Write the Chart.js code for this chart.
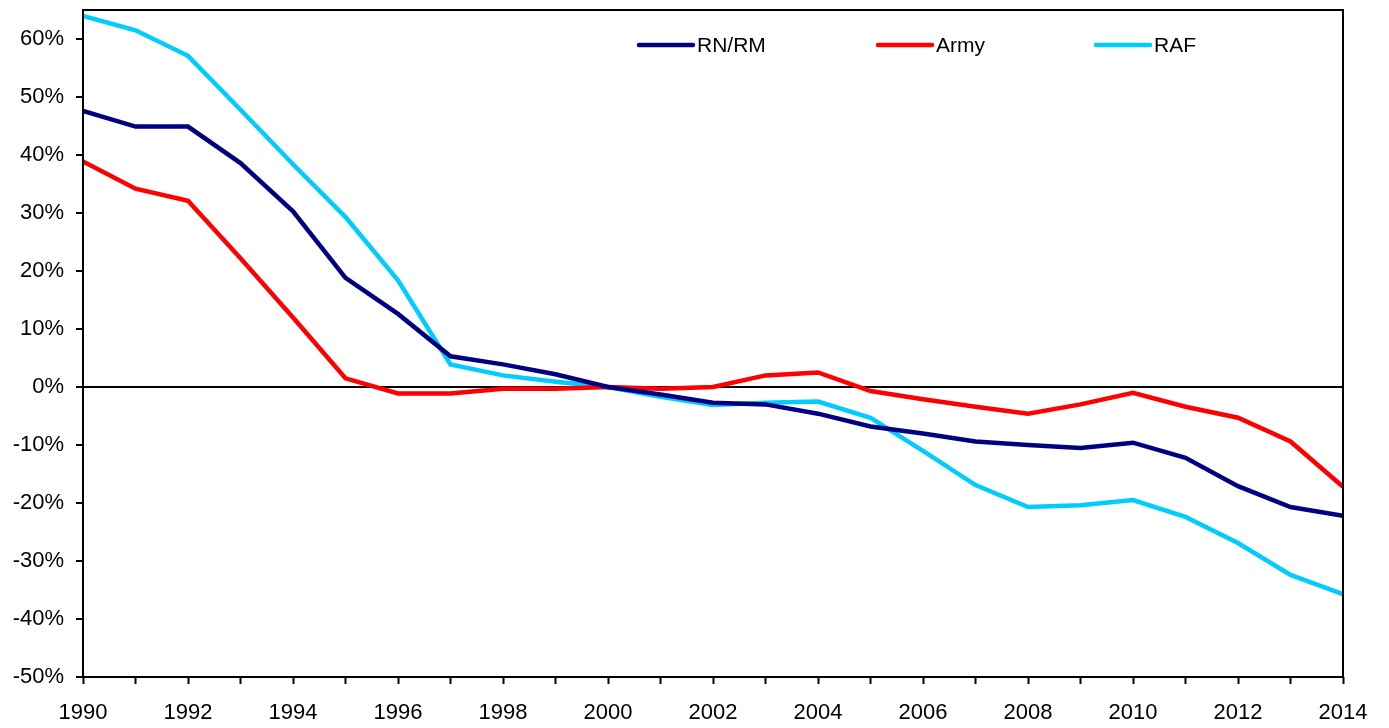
<!DOCTYPE html>
<html>
<head>
<meta charset="utf-8">
<script src="https://cdn.jsdelivr.net/npm/chart.js@4/dist/chart.umd.min.js"></script>
<style>
  html, body { margin: 0; padding: 0; background: #fff; }
  #wrap { width: 1389px; height: 728px; }
</style>
</head>
<body>
<div id="wrap"><canvas id="myChart" width="1389" height="728"></canvas></div>
<script>
// years along the x axis
let years = [1990, 1991, 1992, 1993, 1994, 1995, 1996, 1997, 1998, 1999, 2000, 2001,
             2002, 2003, 2004, 2005, 2006, 2007, 2008, 2009, 2010, 2011, 2012, 2013, 2014];
// % change relative to 2000
let datosRN = [47.6, 44.9, 44.9, 38.6, 30.3, 18.8, 12.6, 5.3, 3.9, 2.2, 0, -1.3,
               -2.7, -3.0, -4.6, -6.8, -8.0, -9.4, -10.0, -10.5, -9.6, -12.2, -17.1, -20.7, -22.2];
let datosArmy = [38.9, 34.2, 32.1, 22.2, 12.0, 1.5, -1.1, -1.1, -0.3, -0.3, 0, -0.3,
                 0, 2.0, 2.5, -0.7, -2.1, -3.4, -4.6, -3.0, -1.0, -3.4, -5.3, -9.4, -17.2];
let datosRAF = [64.0, 61.5, 57.1, 47.8, 38.4, 29.3, 18.4, 3.9, 2.0, 0.9, 0, -1.7,
                -3.1, -2.7, -2.5, -5.3, -11.0, -16.9, -20.7, -20.4, -19.5, -22.4, -26.9, -32.4, -35.7];
let etiquetas = ['RN/RM', 'Army', 'RAF'];
let colores = ['#000080', '#ff0000', '#00ccff'];

const fuente = 'Arial, "Liberation Sans", sans-serif';

// frame round the plot area
const marco = {
    id: 'marco',
    afterDatasetsDraw(chart) {
        const a = chart.chartArea;
        const c = chart.ctx;
        c.save();
        c.strokeStyle = '#000';
        c.lineWidth = 2;
        c.strokeRect(a.left, a.top, a.right - a.left, a.bottom - a.top);
        c.restore();
    }
};

// legend inside the plot, in one row
const leyenda = {
    id: 'leyenda',
    afterDraw(chart) {
        const c = chart.ctx;
        const xs = [639, 878, 1096];
        const y = 45;
        c.save();
        c.font = '21px ' + fuente;
        c.textBaseline = 'middle';
        chart.data.datasets.forEach((ds, i) => {
            c.strokeStyle = ds.borderColor;
            c.lineWidth = 4.5;
            c.lineCap = 'round';
            c.beginPath();
            c.moveTo(xs[i], y);
            c.lineTo(xs[i] + 54, y);
            c.stroke();
            c.fillStyle = '#000';
            c.fillText(ds.label, xs[i] + 58, y + 1);
        });
        c.restore();
    }
};

const ctx = document.getElementById('myChart').getContext('2d');
const chart = new Chart(ctx, {
    type: 'line',
    data: {
        datasets: [datosRN, datosArmy, datosRAF].map((d, i) => ({
            label: etiquetas[i],
            data: d.map((v, j) => ({x: years[j], y: v})),
            borderColor: colores[i],
            backgroundColor: colores[i],
            borderWidth: 4.5,
            pointRadius: 0,
            tension: 0,
            fill: false
        }))
    },
    options: {
        responsive: false,
        animation: false,
        layout: {padding: {top: 10, right: 46, left: 0, bottom: 0}},
        plugins: {legend: {display: false}, tooltip: {enabled: false}},
        scales: {
            x: {
                type: 'linear',
                min: 1990,
                max: 2014,
                border: {display: false},
                grid: {drawOnChartArea: false, drawTicks: true, tickLength: 7, tickColor: '#000', tickWidth: 2},
                ticks: {
                    stepSize: 1,
                    autoSkip: false,
                    maxRotation: 0,
                    padding: 16,
                    color: '#000',
                    font: {family: fuente, size: 22},
                    callback: v => (v % 2 === 0 ? String(v) : '')
                },
                afterFit: s => { s.height = 51; }
            },
            y: {
                min: -50,
                max: 65,
                border: {display: false},
                afterBuildTicks: s => { s.ticks = s.ticks.filter(t => t.value <= 60); },
                grid: {
                    drawTicks: true,
                    tickLength: 7,
                    tickColor: '#000',
                    tickWidth: 2,
                    lineWidth: 2,
                    color: c => (c.tick && c.tick.value === 0 ? '#000' : 'rgba(0,0,0,0)')
                },
                ticks: {
                    stepSize: 10,
                    padding: 12,
                    color: '#000',
                    font: {family: fuente, size: 22},
                    callback: v => v + '%'
                },
                afterFit: s => { s.width = 83; s.paddingTop = 0; s.paddingBottom = 0; }
            }
        }
    },
    plugins: [marco, leyenda]
});
</script>
</body>
</html>
